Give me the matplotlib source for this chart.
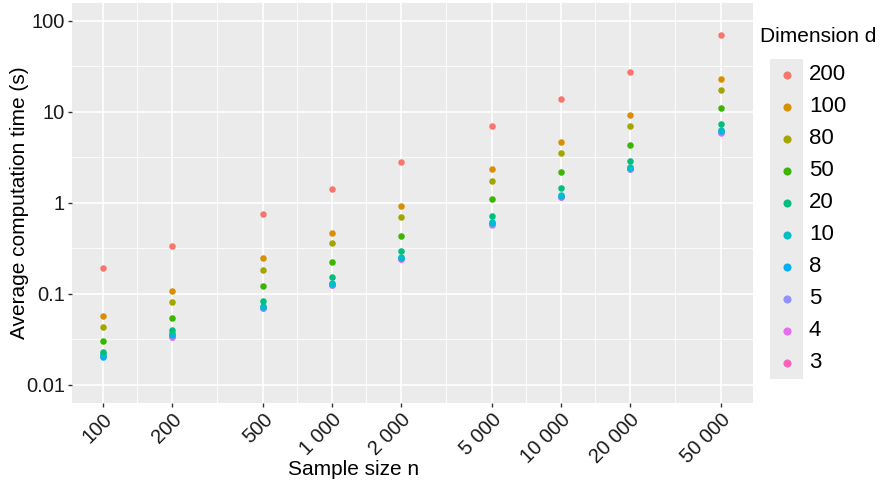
import numpy as np
import matplotlib.pyplot as plt

plt.rcParams['font.family'] = ['Liberation Sans', 'DejaVu Sans']

# sample sizes and dimensions
sample_sizes = [100, 200, 500, 1000, 2000, 5000, 10000, 20000, 50000]
tick_labels = ["100", "200", "500", "1 000", "2 000", "5 000", "10 000", "20 000", "50 000"]
dims = [200, 100, 80, 50, 20, 10, 8, 5, 4, 3]
colors = ["#F8766D", "#D89000", "#A3A500", "#39B600", "#00BF7D",
          "#00BFC4", "#00B0F6", "#9590FF", "#E76BF3", "#FF62BC"]

# average computation time (s), one list per dimension, over sample_sizes
t_200 = [0.191, 0.334, 0.748, 1.43, 2.80, 6.89, 13.7, 27.6, 69.0]
t_100 = [0.0574, 0.107, 0.246, 0.471, 0.922, 2.33, 4.60, 9.10, 23.0]
t_80 = [0.0435, 0.0806, 0.185, 0.360, 0.706, 1.73, 3.49, 6.96, 17.4]
t_50 = [0.0304, 0.0547, 0.122, 0.223, 0.437, 1.10, 2.18, 4.30, 10.9]
t_20 = [0.0230, 0.0397, 0.0826, 0.153, 0.299, 0.724, 1.44, 2.87, 7.31]
t_10 = [0.0217, 0.0374, 0.0728, 0.131, 0.257, 0.622, 1.23, 2.49, 6.28]
t_8 = [0.0204, 0.0355, 0.0710, 0.128, 0.249, 0.600, 1.19, 2.42, 6.10]
t_5 = [0.0207, 0.0350, 0.0705, 0.126, 0.245, 0.590, 1.17, 2.38, 6.00]
t_4 = [0.0208, 0.0336, 0.0698, 0.124, 0.241, 0.577, 1.15, 2.33, 5.88]
t_3 = [0.0206, 0.0340, 0.0700, 0.125, 0.243, 0.580, 1.16, 2.35, 5.92]
times = [t_200, t_100, t_80, t_50, t_20, t_10, t_8, t_5, t_4, t_3]

fig = plt.figure(figsize=(8.85, 4.86), dpi=100)
ax = fig.add_axes([72 / 885, 83 / 486, (752.7 - 72) / 885, 400 / 486])
ax.set_facecolor("#EBEBEB")

# draw small dimensions first, like the original
for d, t, c in reversed(list(zip(dims, times, colors))):
    ax.scatter(sample_sizes, t, s=22, color=c, linewidths=0, zorder=3)

ax.set_xscale("log")
ax.set_yscale("log")
ax.set_xlim(10 ** 1.866, 10 ** 4.837)
ax.set_ylim(10 ** -2.198, 10 ** 2.194)

ax.set_xticks(sample_sizes)
ax.set_xticklabels(tick_labels, rotation=45, ha="right", va="top",
                   rotation_mode="anchor")
yt = [0.01, 0.1, 1, 10, 100]
ax.set_yticks(yt)
ax.set_yticklabels(["0.01", "0.1", "1", "10", "100"])
ax.minorticks_off()

# minor grid halfway between majors (in log space)
lx = np.log10(sample_sizes)
for m in 10 ** ((lx[:-1] + lx[1:]) / 2):
    ax.axvline(m, color="white", lw=0.6, zorder=1)
for m in 10 ** (np.arange(-2, 2) + 0.5):
    ax.axhline(m, color="white", lw=0.6, zorder=1)
ax.grid(True, which="major", color="white", lw=1.2, zorder=1)
ax.set_axisbelow(True)

for s in ax.spines.values():
    s.set_visible(False)
ax.tick_params(axis="both", which="major", length=3, width=1, color="#333333",
               labelsize=14.5, labelcolor="#1a1a1a", pad=2)

ax.set_xlabel("Sample size n", fontsize=15, color="black")
ax.xaxis.set_label_coords(0.414, -0.143)
ax.set_ylabel("Average computation time (s)", fontsize=15, color="black", labelpad=-2)

# legend: grey key strip with dots, labels to the right
fig.text(760 / 885, 1 - 37 / 486, "Dimension d", fontsize=15, va="center", ha="left")
lax = fig.add_axes([770 / 885, 1 - 379 / 486, 33 / 885, 320 / 486])
lax.set_facecolor("#EBEBEB")
for i, (d, c) in enumerate(zip(dims, colors)):
    lax.scatter([0], [i], s=34, color=c, linewidths=0)
    lax.text(1.35, i, str(d), fontsize=16, va="center", ha="left", clip_on=False)
lax.set_xlim(-1, 1)
lax.set_ylim(len(dims) - 0.5, -0.5)
lax.set_xticks([])
lax.set_yticks([])
for s in lax.spines.values():
    s.set_visible(False)

fig.savefig("out.png", dpi=100)
